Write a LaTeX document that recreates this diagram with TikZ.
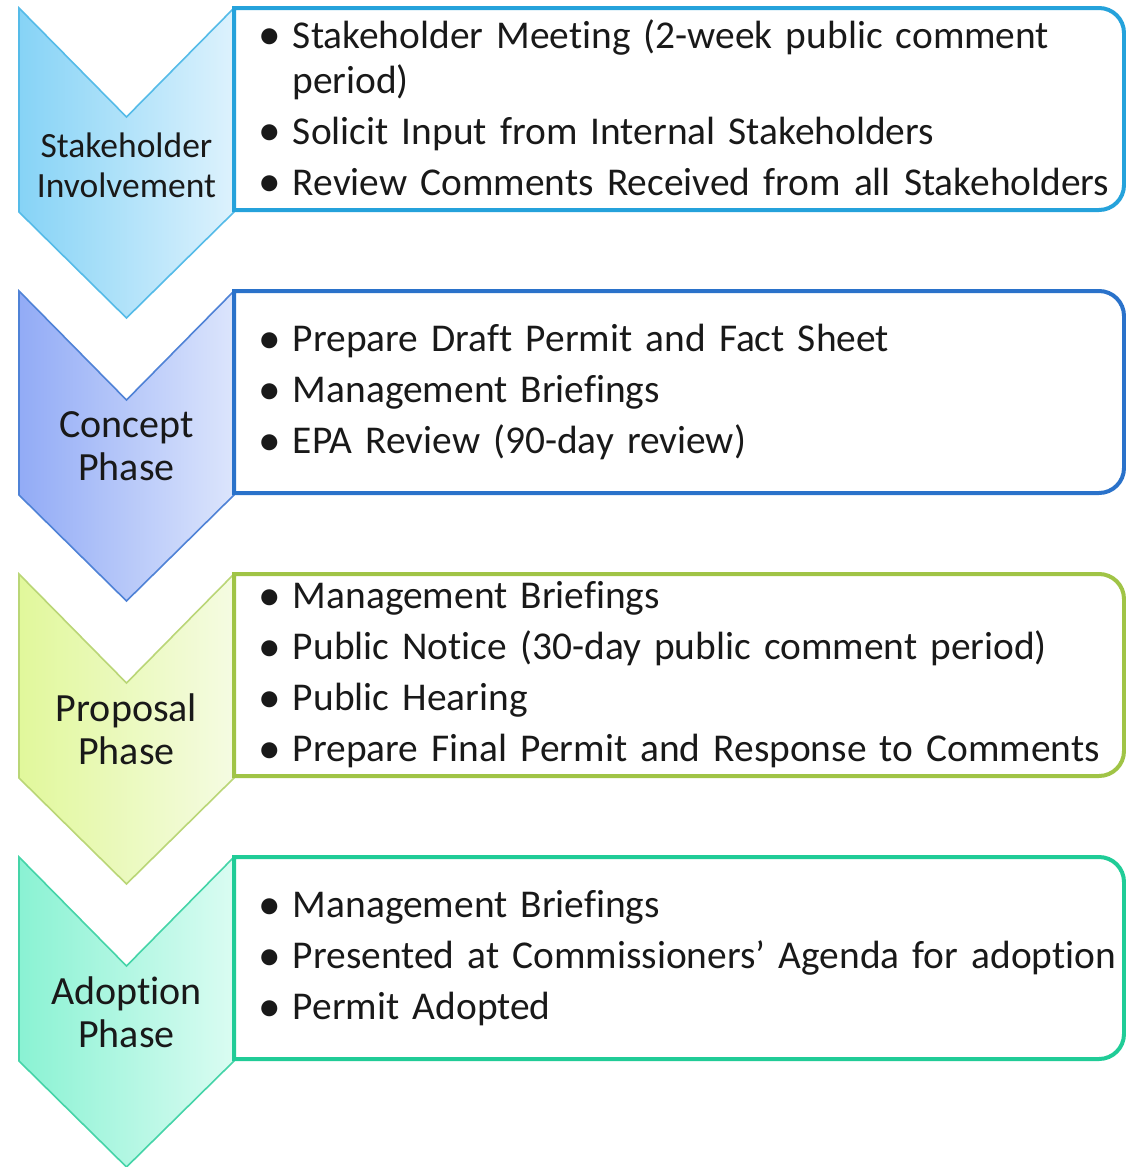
\documentclass[tikz,border=0pt]{standalone}
\usepackage{fontspec}
\setmainfont{Carlito}[Ligatures=NoCommon]
\usepackage{enumitem}
\usetikzlibrary{positioning}
\setlist[itemize]{nosep, itemsep=3pt, leftmargin=16.5pt, labelindent=-0.7pt, labelwidth=11pt, labelsep=6.2pt, align=left, label=\raisebox{-0.05em}{\scalebox{1.15}{\textbullet}}}
\definecolor{stakeFill}{HTML}{86D3F6}
\definecolor{stakeFade}{HTML}{DDF2FD}
\definecolor{stakeEdge}{HTML}{55BBE8}
\definecolor{stakeLine}{HTML}{25A2DB}
\definecolor{conceptFill}{HTML}{92ABF6}
\definecolor{conceptFade}{HTML}{DCE5FC}
\definecolor{conceptEdge}{HTML}{4F82D6}
\definecolor{conceptLine}{HTML}{2A72CA}
\definecolor{proposalFill}{HTML}{E1F89B}
\definecolor{proposalFade}{HTML}{F5FBE2}
\definecolor{proposalEdge}{HTML}{BAD677}
\definecolor{proposalLine}{HTML}{A0C446}
\definecolor{adoptFill}{HTML}{8AF2D3}
\definecolor{adoptFade}{HTML}{DAFCF2}
\definecolor{adoptEdge}{HTML}{45D4A8}
\definecolor{adoptLine}{HTML}{20CC97}

\tikzset{
  chevron/.style={line width=0.8pt},
  phasebox/.style={line width=2pt, fill=white},
  phaselabel/.style={align=center, inner sep=0pt, text=black!90, font=\fontsize{20pt}{21.5pt}\selectfont},
  bulletlist/.style={anchor=west, inner sep=0pt, text width=440pt, align=left, text=black!90, font=\fontsize{19.7pt}{22.5pt}\selectfont}
}

\begin{document}
\begin{tikzpicture}[x=0.5pt,y=-0.5pt]
        \fill[white] (0,0) rectangle (1125,1167);
        \useasboundingbox (0,0) rectangle (1125,1167);

        % Stakeholder involvement
        \draw[chevron, draw=stakeEdge, left color=stakeFill, right color=stakeFade] (19,8) -- (126.5,117) -- (234,8) -- (234,212) -- (126.5,318) -- (19,212) -- cycle;
        \draw[phasebox, draw=stakeLine] (234,8) -- (1099,8) arc[start angle=-90, end angle=0, radius=25] -- (1124,185) arc[start angle=0, end angle=90, radius=25] -- (234,210) -- cycle;
        \node[phaselabel, font=\fontsize{17.75pt}{20pt}\selectfont] (stake_lbl) at (126.5,165) {Stakeholder\\Involvement};
        \node[bulletlist] (stake_list) at (259,100) {\begin{itemize}
            \item Stakeholder Meeting (2-week public comment\newline period)
            \item Solicit Input from Internal Stakeholders
            \item Review Comments Received from all Stakeholders
          \end{itemize}};

        % Concept phase
        \draw[chevron, draw=conceptEdge, left color=conceptFill, right color=conceptFade] (19,291) -- (126.5,400) -- (234,291) -- (234,495) -- (126.5,601) -- (19,495) -- cycle;
        \draw[phasebox, draw=conceptLine] (234,291) -- (1099,291) arc[start angle=-90, end angle=0, radius=25] -- (1124,468) arc[start angle=0, end angle=90, radius=25] -- (234,493) -- cycle;
        \node[phaselabel] (concept_lbl) at (126.5,446) {Concept\\Phase};
        \node[bulletlist] (concept_list) at (259,383) {\begin{itemize}
            \item Prepare Draft Permit and Fact Sheet
            \item Management Briefings
            \item EPA Review (90-day review)
          \end{itemize}};

        % Proposal phase
        \draw[chevron, draw=proposalEdge, left color=proposalFill, right color=proposalFade] (19,574) -- (126.5,683) -- (234,574) -- (234,778) -- (126.5,884) -- (19,778) -- cycle;
        \draw[phasebox, draw=proposalLine] (234,574) -- (1099,574) arc[start angle=-90, end angle=0, radius=25] -- (1124,751) arc[start angle=0, end angle=90, radius=25] -- (234,776) -- cycle;
        \node[phaselabel] (proposal_lbl) at (126.5,729) {Proposal\\Phase};
        \node[bulletlist] (proposal_list) at (259,666) {\begin{itemize}
            \item Management Briefings
            \item Public Notice (30-day public comment period)
            \item Public Hearing
            \item Prepare Final Permit and Response to Comments
          \end{itemize}};

        % Adoption phase
        \draw[chevron, draw=adoptEdge, left color=adoptFill, right color=adoptFade] (19,857) -- (126.5,966) -- (234,857) -- (234,1061) -- (126.5,1167) -- (19,1061) -- cycle;
        \draw[phasebox, draw=adoptLine] (234,857) -- (1099,857) arc[start angle=-90, end angle=0, radius=25] -- (1124,1034) arc[start angle=0, end angle=90, radius=25] -- (234,1059) -- cycle;
        \node[phaselabel] (adopt_lbl) at (126.5,1012) {Adoption\\Phase};
        \node[bulletlist] (adopt_list) at (259,949) {\begin{itemize}
            \item Management Briefings
            \item Presented at Commissioners’ Agenda for adoption
            \item Permit Adopted
          \end{itemize}};

    \end{tikzpicture}
\end{document}
